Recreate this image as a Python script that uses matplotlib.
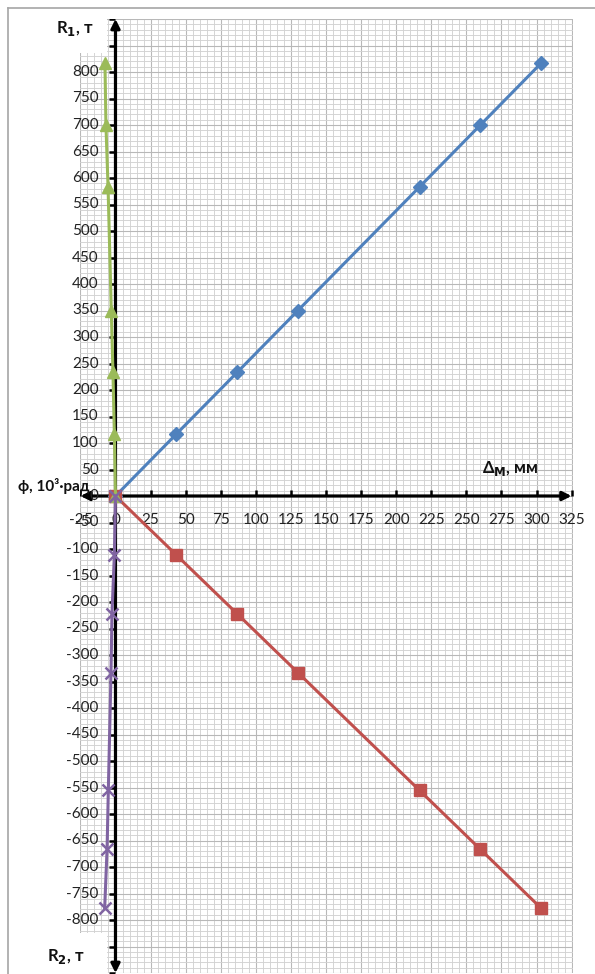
import matplotlib
matplotlib.use("Agg")
import matplotlib.pyplot as plt
from matplotlib.lines import Line2D
from matplotlib.patches import Rectangle
import numpy as np

plt.rcParams['font.family'] = ['Lato', 'Noto Sans', 'DejaVu Sans']
plt.rcParams['mathtext.fontset'] = 'dejavusans'

# ---- data ----
delta_mm = [0, 43.3, 86.7, 130, 216.7, 260, 303.3]
R1 = [0, 116.7, 233.3, 350, 583.3, 700, 816.7]
R2 = [0, -111.1, -222.2, -333.3, -555.6, -666.7, -777.8]
phi_R1 = [0, -0.8, -1.8, -3.0, -5.3, -6.8, -7.5]
phi_R2 = [0, -0.8, -2.5, -3.2, -5.1, -6.0, -7.7]

x_ticks = list(range(-25, 326, 25))
y_ticks = list(range(-900, 901, 50))
y_tick_labels = list(range(-800, 801, 50))

blue = '#4F81BD'
red = '#C0504D'
green = '#9BBB59'
purple = '#8064A2'

W, H = 595, 974
fig = plt.figure(figsize=(W / 100, H / 100), dpi=100)
fig.patch.set_facecolor('white')

# axes placement (pixel based)
x0_px, x1_px = 80.4, 573.0
y_top_px, y_bot_px = 19.0, 973.0
ax = fig.add_axes([x0_px / W, 1 - y_bot_px / H, (x1_px - x0_px) / W, (y_bot_px - y_top_px) / H])
ax.set_xlim(-25, 326)
ax.set_ylim(-900, 900)
for s in ax.spines.values():
    s.set_visible(False)
ax.set_xticks([])
ax.set_yticks([])

# grid
for xv in np.arange(-25, 326, 5):
    major = (xv % 25 == 0)
    ax.axvline(xv, color='#b8b8b8' if major else '#d2d2d2', lw=0.8 if major else 0.65, zorder=0)
for yv in np.arange(-900, 901, 10):
    major = (yv % 50 == 0)
    ax.axhline(yv, color='#b8b8b8' if major else '#d2d2d2', lw=0.8 if major else 0.65, zorder=0)

# blank corners (grid absent there)
ax.add_patch(Rectangle((-25, 836), 19, 80, facecolor='white', edgecolor='none', zorder=0.5))
ax.add_patch(Rectangle((-25, -920), 19, 96, facecolor='white', edgecolor='none', zorder=0.5))

# axes with arrows
ax.annotate('', xy=(0, 900), xytext=(0, -900),
            arrowprops=dict(arrowstyle='<|-|>', lw=2.3, color='black', mutation_scale=13,
                            shrinkA=0, shrinkB=0), zorder=3)
ax.annotate('', xy=(325, 0), xytext=(-25, 0),
            arrowprops=dict(arrowstyle='<|-|>', lw=2.3, color='black', mutation_scale=13,
                            shrinkA=0, shrinkB=0), zorder=3)

# tick marks
ax.plot([0] * len(y_ticks), y_ticks, linestyle='none', marker=0, markersize=4,
        markeredgewidth=1.8, color='black', zorder=3)
ax.plot(x_ticks, [0] * len(x_ticks), linestyle='none', marker=2, markersize=4,
        markeredgewidth=1.8, color='black', zorder=3)

# tick labels
for yv in y_tick_labels:
    ax.annotate(str(yv), xy=(0, yv), xytext=(-17, 0), textcoords='offset pixels',
                ha='right', va='center', fontsize=11, color='#222222', zorder=4)
for xv in x_ticks:
    ax.annotate(str(xv), xy=(xv, 0), xytext=(0, -24), textcoords='offset pixels',
                ha='center', va='center', fontsize=11, color='#222222', zorder=4)

# series
ax.plot(delta_mm, R1, color=blue, lw=2.2, marker='D', markersize=7, zorder=5)
ax.plot(delta_mm, R2, color=red, lw=2.2, marker='s', markersize=8, zorder=5)
ax.plot(phi_R1, R1, color=green, lw=2.2, marker='^', markersize=8.5, zorder=6)
ax.plot(phi_R2, R2, color=purple, lw=2.2, marker='x', markersize=8.5,
        markeredgewidth=1.8, zorder=6)

# axis titles
fig.text(56 / W, 1 - 28 / H, 'R$_{\\mathbf{1}}$, т', fontsize=12, fontweight='bold',
         ha='left', va='center', color='#111111')
fig.text(47 / W, 1 - 956 / H, 'R$_{\\mathbf{2}}$, т', fontsize=12, fontweight='bold',
         ha='left', va='center', color='#111111')
fig.text(482 / W, 1 - 469 / H, 'Δ$_{\\mathbf{М}}$, мм', fontsize=12, fontweight='bold',
         ha='left', va='center', color='#111111')
fig.text(18 / W, 1 - 486 / H, 'ф, 10³·рад', fontsize=11, fontweight='bold',
         ha='left', va='center', color='#111111')

# outer frame
fig.add_artist(Line2D([8 / W, 1.0], [1 - 8 / H, 1 - 8 / H], color='#a6a6a6', lw=1.2,
                      transform=fig.transFigure))
fig.add_artist(Line2D([8 / W, 8 / W], [1 - 8 / H, 0], color='#a6a6a6', lw=1.2,
                      transform=fig.transFigure))

fig.savefig('out.png', dpi=100, facecolor='white')
